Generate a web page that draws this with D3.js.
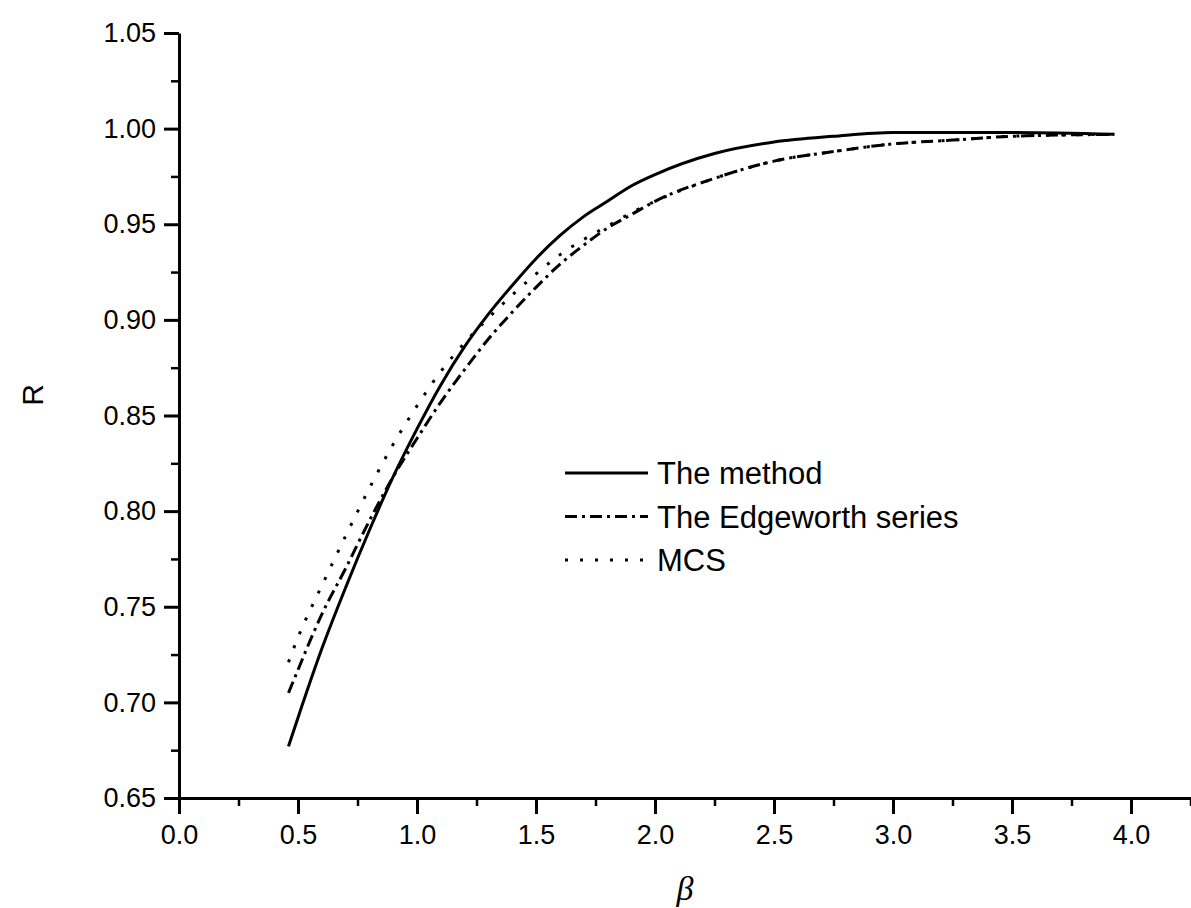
<!DOCTYPE html>
<html>
<head>
<meta charset="utf-8">
<style>
body{ margin:0; background:#fff; }
.tick text{ font-family: "Liberation Sans", Arial, sans-serif; font-size:27px; fill:#000; }
.line{ fill:none; stroke:#000; stroke-width:3; }
</style>
<script src="https://d3js.org/d3.v7.min.js"></script>
</head>
<body>
<script>
var w = 1191;
var h = 908;

// beta values and R for each method
var betaMethod = [0.46, 0.5, 0.6, 0.7, 0.8, 0.9, 1.0, 1.1, 1.2, 1.3, 1.4, 1.5, 1.6, 1.7, 1.8, 1.9, 2.0, 2.25, 2.5, 2.75, 3.0, 3.5, 3.93];
var rMethod    = [0.677, 0.692, 0.728, 0.760, 0.790, 0.818, 0.843, 0.866, 0.886, 0.903, 0.918, 0.932, 0.944, 0.954, 0.962, 0.970, 0.976, 0.987, 0.993, 0.996, 0.998, 0.998, 0.997];

var betaEdge = [0.46, 0.5, 0.55, 0.6, 0.7, 0.8, 0.9, 1.0, 1.1, 1.2, 1.3, 1.4, 1.5, 1.6, 1.7, 1.8, 1.9, 2.0, 2.25, 2.5, 2.75, 3.0, 3.25, 3.5, 3.93];
var rEdge    = [0.705, 0.717, 0.732, 0.746, 0.770, 0.795, 0.818, 0.838, 0.857, 0.874, 0.890, 0.904, 0.917, 0.929, 0.939, 0.948, 0.955, 0.962, 0.974, 0.983, 0.988, 0.992, 0.994, 0.996, 0.997];

var betaMcs = [0.46, 0.5, 0.55, 0.6, 0.7, 0.8, 0.9, 1.0, 1.1, 1.2, 1.3, 1.4, 1.5, 1.6, 1.7, 1.8, 1.9, 2.0, 2.25, 2.5, 2.75, 3.0, 3.25, 3.5, 3.93];
var rMcs    = [0.721, 0.734, 0.748, 0.761, 0.787, 0.812, 0.835, 0.855, 0.873, 0.888, 0.901, 0.913, 0.924, 0.934, 0.942, 0.949, 0.956, 0.962, 0.974, 0.983, 0.988, 0.992, 0.994, 0.996, 0.997];

var legendNames = ["The method", "The Edgeworth series", "MCS"];
var dashes = [null, "12,5,3,5", "3,12"];

var xTicks = [0, 0.5, 1.0, 1.5, 2.0, 2.5, 3.0, 3.5, 4.0];
var yTicks = [0.65, 0.70, 0.75, 0.80, 0.85, 0.90, 0.95, 1.00, 1.05];

var xScale = d3.scaleLinear().domain([0, 4.25]).range([179, 1190.5]);
var yScale = d3.scaleLinear().domain([0.65, 1.05]).range([798, 33]);

var svg = d3.select("body").append("svg")
    .attr("width", w)
    .attr("height", h);

// minor ticks
var xMinor = d3.range(0.25, 4.3, 0.5);
var yMinor = d3.range(0.675, 1.05, 0.05);

svg.append("g")
   .attr("transform", "translate(0,798)")
   .call(d3.axisBottom(xScale).tickValues(xMinor).tickSize(8).tickFormat(""))
   .call(function(g){ g.select(".domain").remove(); g.selectAll("line").attr("stroke-width", 2.5); });

svg.append("g")
   .attr("transform", "translate(179,0)")
   .call(d3.axisLeft(yScale).tickValues(yMinor).tickSize(8).tickFormat(""))
   .call(function(g){ g.select(".domain").remove(); g.selectAll("line").attr("stroke-width", 2.5); });

var xAxis = svg.append("g")
   .attr("transform", "translate(0,798)")
   .call(d3.axisBottom(xScale).tickValues(xTicks).tickSize(16).tickSizeOuter(0).tickPadding(11).tickFormat(d3.format(".1f")));
xAxis.select(".domain").attr("stroke-width", 3);
xAxis.selectAll(".tick line").attr("stroke-width", 3);

var yAxis = svg.append("g")
   .attr("transform", "translate(179,0)")
   .call(d3.axisLeft(yScale).tickValues(yTicks).tickSize(15).tickSizeOuter(0).tickPadding(8).tickFormat(d3.format(".2f")));
yAxis.select(".domain").attr("stroke-width", 3);
yAxis.selectAll(".tick line").attr("stroke-width", 3);

// axis titles
svg.append("text")
   .attr("x", 685).attr("y", 900)
   .attr("text-anchor", "middle")
   .style("font-family", "'Liberation Serif', 'DejaVu Serif', serif")
   .style("font-style", "italic")
   .style("font-size", "34px")
   .text("β");

svg.append("text")
   .attr("transform", "translate(43,395) rotate(-90)")
   .attr("text-anchor", "middle")
   .style("font-family", "'Liberation Sans', Arial, sans-serif")
   .style("font-size", "30px")
   .text("R");

var line = d3.line()
    .x(function(d){ return xScale(d[0]); })
    .y(function(d){ return yScale(d[1]); })
    .curve(d3.curveMonotoneX);

var series = [d3.zip(betaMethod, rMethod), d3.zip(betaEdge, rEdge), d3.zip(betaMcs, rMcs)];

series.forEach(function(s, i){
    svg.append("path")
       .datum(s)
       .attr("class", "line")
       .attr("stroke-dasharray", dashes[i])
       .attr("d", line);
});

// legend
var legend = svg.append("g").attr("transform", "translate(565,473)");
legendNames.forEach(function(name, i){
    var row = legend.append("g").attr("transform", "translate(0," + (i * 43.5) + ")");
    row.append("line")
       .attr("x1", 0).attr("x2", 83)
       .attr("stroke", "#000").attr("stroke-width", 3)
       .attr("stroke-dasharray", dashes[i]);
    row.append("text")
       .attr("x", 92).attr("y", 11)
       .style("font-family", "'Liberation Sans', Arial, sans-serif")
       .style("font-size", "31px")
       .text(name);
});
</script>
</body>
</html>
